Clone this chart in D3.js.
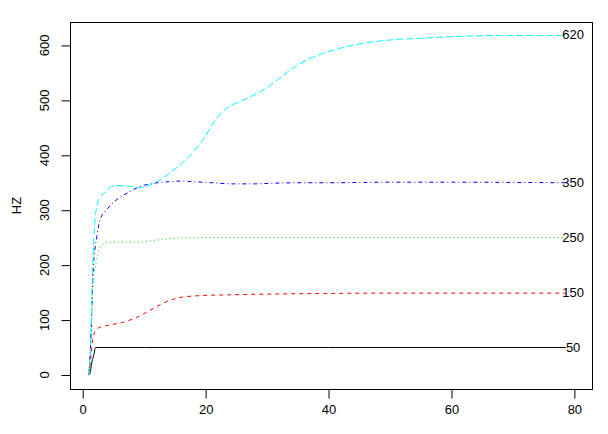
<!DOCTYPE html>
<html>
<head>
<meta charset="utf-8">
<script src="https://cdn.jsdelivr.net/npm/d3@7"></script>
<style>
  body { margin: 0; background: #fff; }
  svg text { font-family: "Liberation Sans", Arial, sans-serif; font-size: 13px; fill: #000; }
</style>
</head>
<body>
<script>
(function(){

    //tick values and end labels
    var xTicks = [0, 20, 40, 60, 80];
    var yTicks = [0, 100, 200, 300, 400, 500, 600];
    var endLabels = ["50", "150", "250", "350", "620"];
    var endLabelY = [50, 150, 250, 350, 620];
    var labelX = 79.8;

    //series, [x, HZ]
    var black = [[1,0],[1.2,3],[1.46,22],[1.73,33],[2.1,50],[10,50],[40,50],[78.6,50]];
    var red = [[1,0],[1.4,40],[1.7,70],[2.2,82],[2.8,87],[4.4,91],[6.6,96],[8.8,105],[11,118],[12.6,128],
        [14.2,136],[15.8,141],[19.1,144.5],[24,146],[35,148],[50,149],[78.6,149]];
    var green = [[1,0],[1.3,50],[1.5,120],[1.7,173],[2.2,205],[2.8,232],[3.5,239],[4.2,241],[6,242],[9.3,242],
        [11.5,245],[13,247],[14.7,249],[20,250],[30,250],[50,250],[78.6,250]];
    var blue = [[1,0],[1.3,60],[1.7,191],[2.3,252],[2.8,282],[3.9,301],[5.5,319],[7.2,331],[9.3,343],
        [11.5,349],[14,352],[16,353],[18,352],[21,350],[24.5,348],[28,348],[30.5,349],[35,350],[40,350],
        [50,351],[60,351],[78.6,350]];
    var cyan = [[1,0],[1.3,60],[1.6,190],[2.0,282],[2.3,308],[2.7,322],[3.9,335],[4.4,342],[5.5,345],[7.2,344],
        [9.3,341],[11.5,349],[13,358],[14.2,368],[15.8,382],[18,406],[19.9,434],[21.5,463],[22.9,481],
        [24.8,494],[27.2,506],[29.1,517],[30.5,527],[32.1,541],[33.7,555],[36.4,573],[39.2,586],[41.9,595],
        [45.1,603],[48.4,608],[51.1,611],[55,613],[60,616],[68,618],[78.6,618]];

    var seriesList = [black, red, green, blue, cyan];
    var colors = ["#000000", "#FF0000", "#00CD00", "#0000FF", "#00FFFF"];
    var dashes = [null, "4,4", "1,3", "1,3,4,3", "7,3"];

    //frame
    var width = 608, height = 434;
    var left = 70, right = 592, top = 22, bottom = 389;

    var svg = d3.select("body")
        .append("svg")
        .attr("width", width)
        .attr("height", height);

    //R style 4% padding on the ranges
    var xScale = d3.scaleLinear()
        .domain([-2.07, 82.87])
        .range([left, right]);

    var yScale = d3.scaleLinear()
        .domain([-25.5, 642.7])
        .range([bottom, top]);

    var line = d3.line()
        .x(function(d){ return xScale(d[0]); })
        .y(function(d){ return yScale(d[1]); })
        .curve(d3.curveMonotoneX);

    //lines
    seriesList.forEach(function(s, i){
        svg.append("path")
            .datum(s)
            .attr("d", line)
            .attr("fill", "none")
            .attr("stroke", colors[i])
            .attr("stroke-width", 1)
            .attr("stroke-dasharray", dashes[i]);
    });

    //end labels
    svg.selectAll(".endLabel")
        .data(endLabels)
        .enter()
        .append("text")
        .attr("class", "endLabel")
        .attr("x", xScale(labelX))
        .attr("y", function(d, i){ return yScale(endLabelY[i]); })
        .attr("dy", "0.36em")
        .attr("text-anchor", "middle")
        .text(function(d){ return d; });

    //box
    svg.append("rect")
        .attr("x", left + 0.5)
        .attr("y", top + 0.5)
        .attr("width", right - left)
        .attr("height", bottom - top)
        .attr("fill", "none")
        .attr("stroke", "#000")
        .attr("stroke-width", 1);

    //x axis
    var xAxis = d3.axisBottom(xScale)
        .tickValues(xTicks)
        .tickSize(9)
        .tickPadding(6)
        .tickFormat(d3.format("d"));

    var gx = svg.append("g")
        .attr("transform", "translate(0," + (bottom + 0.5) + ")")
        .call(xAxis);
    gx.select(".domain").remove();
    gx.selectAll("text").attr("font-size", null).attr("font-family", null);

    //y axis
    var yAxis = d3.axisLeft(yScale)
        .tickValues(yTicks)
        .tickSize(9)
        .tickFormat(d3.format("d"));

    var gy = svg.append("g")
        .attr("transform", "translate(" + (left + 0.5) + ",0)")
        .call(yAxis);
    gy.select(".domain").remove();
    gy.selectAll("text").remove();

    //rotated y tick labels like base R
    svg.selectAll(".yLabel")
        .data(yTicks)
        .enter()
        .append("text")
        .attr("class", "yLabel")
        .attr("text-anchor", "middle")
        .attr("transform", function(d){ return "translate(48.5," + yScale(d) + ") rotate(-90)"; })
        .text(function(d){ return d; });

    //axis title
    svg.append("text")
        .attr("text-anchor", "middle")
        .attr("transform", "translate(21," + ((top + bottom) / 2) + ") rotate(-90)")
        .text("HZ");

})();
</script>
</body>
</html>
